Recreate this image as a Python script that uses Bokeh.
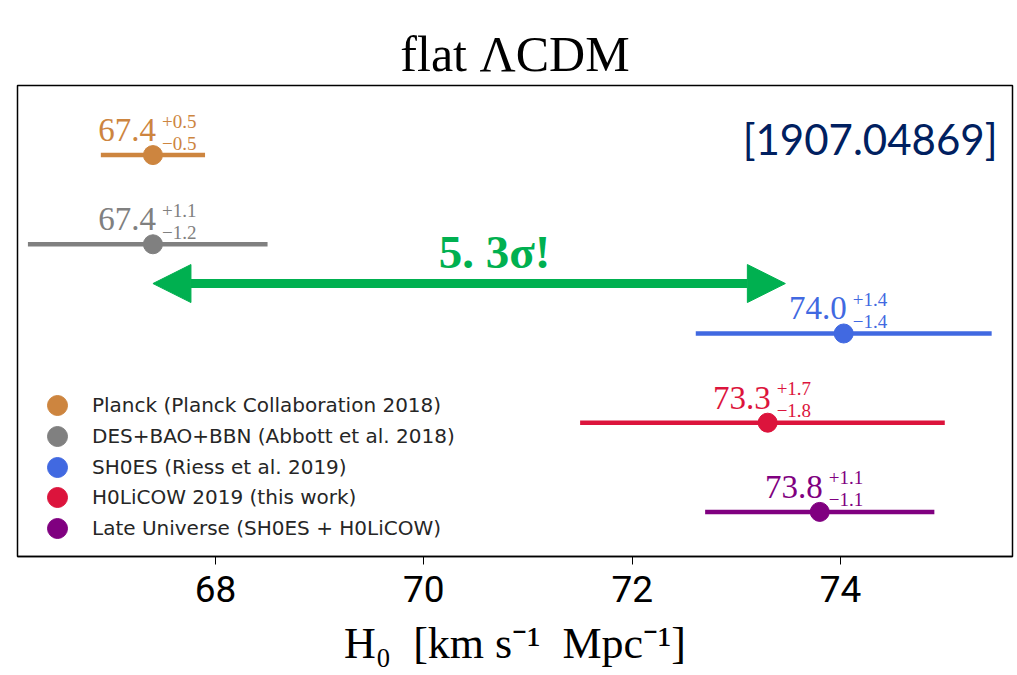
from bokeh.plotting import figure
from bokeh.models import (ColumnDataSource, Legend, LegendItem, Label, Arrow,
                          NormalHead, Range1d, FixedTicker)
from bokeh.core.properties import value
from bokeh.embed import file_html
from bokeh.resources import INLINE

# ---- data ----
names = ["Planck (Planck Collaboration 2018)",
         "DES+BAO+BBN (Abbott et al. 2018)",
         "SH0ES (Riess et al. 2019)",
         "H0LiCOW 2019 (this work)",
         "Late Universe (SH0ES + H0LiCOW)"]
h0 = [67.4, 67.4, 74.03, 73.3, 73.8]
err_hi = [0.5, 1.1, 1.42, 1.7, 1.1]
err_lo = [0.5, 1.2, 1.42, 1.8, 1.1]
main_lbl = ["67.4", "67.4", "74.0", "73.3", "73.8"]
sup_lbl = ["+0.5", "+1.1", "+1.4", "+1.7", "+1.1"]
sub_lbl = ["\u22120.5", "\u22121.2", "\u22121.4", "\u22121.8", "\u22121.1"]
rows = [5, 4, 3, 2, 1]
colors = ["#cd853f", "#808080", "#4169e1", "#dc143c", "#800080"]
x_ticks = [68, 70, 72, 74]
tension_text = "5. 3\u03c3!"
tension_from = 67.4
tension_to = 73.47
tension_row = 3.56
ref_text = "[1907.04869]"
xlabel = "H\u2080\u00a0\u00a0[km\u00a0s\u207b\u00b9\u00a0\u00a0Mpc\u207b\u00b9]"

lo = [v - e for v, e in zip(h0, err_lo)]
hi = [v + e for v, e in zip(h0, err_hi)]
src = ColumnDataSource(dict(x=h0, y=rows, lo=lo, hi=hi, c=colors,
                            main=main_lbl, sup=sup_lbl, sub=sub_lbl))

p = figure(width=1017, height=675, output_backend="svg", toolbar_location=None,
           x_range=Range1d(66.1, 75.65), y_range=Range1d(0.5, 5.78),
           min_border_left=17, min_border_right=5, min_border_top=85,
           min_border_bottom=119)
p.title.text = "flat \u039bCDM"
p.title.align = "center"
p.title.text_font = "Liberation Serif"
p.title.text_font_size = "50px"
p.title.text_font_style = "normal"
p.title.text_color = "black"
p.title.standoff = 8

p.xgrid.visible = False
p.ygrid.visible = False
p.yaxis.visible = False
p.outline_line_color = "black"
p.outline_line_width = 1.5
p.background_fill_color = "white"
p.border_fill_color = "white"

ax = p.xaxis[0]
ax.ticker = FixedTicker(ticks=x_ticks)
ax.major_label_text_font = "Roboto"
ax.major_label_text_font_size = "37px"
ax.major_label_text_color = "black"
ax.major_tick_out = 8
ax.major_tick_in = 0
ax.minor_tick_out = 0
ax.minor_tick_in = 0
ax.major_label_standoff = 11
ax.axis_line_width = 1.5
ax.axis_label = xlabel
ax.axis_label_text_font = "Liberation Serif"
ax.axis_label_text_font_size = "44px"
ax.axis_label_text_font_style = "normal"
ax.axis_label_text_color = "black"
ax.axis_label_standoff = 14

# error bars and points
p.segment(x0="lo", y0="y", x1="hi", y1="y", line_color="c", line_width=4.5, source=src)
pts = p.scatter(x="x", y="y", size=19, fill_color="c", line_color="c", source=src)

# value labels
serif = value("Liberation Serif")
p.text(x="x", y="y", text="main", text_color="c", text_font=serif,
       text_font_size="33px", text_align="right", text_baseline="alphabetic",
       x_offset=3, y_offset=-25, source=src)
p.text(x="x", y="y", text="sup", text_color="c", text_font=serif,
       text_font_size="19px", text_align="left", text_baseline="alphabetic",
       x_offset=9, y_offset=-34, source=src)
p.text(x="x", y="y", text="sub", text_color="c", text_font=serif,
       text_font_size="19px", text_align="left", text_baseline="alphabetic",
       x_offset=9, y_offset=-12, source=src)

# tension arrow
green = "#00b050"
p.add_layout(Arrow(x_start=tension_from, y_start=tension_row,
                   x_end=tension_to, y_end=tension_row,
                   line_color=green, line_width=9,
                   start=NormalHead(size=38, fill_color=green, line_color=green),
                   end=NormalHead(size=38, fill_color=green, line_color=green)))
p.add_layout(Label(x=477, y=305, x_units="screen", y_units="screen",
                   text=tension_text, text_font="Liberation Serif",
                   text_font_style="bold", text_font_size="47px",
                   text_color=green, text_align="center",
                   text_baseline="alphabetic"))
p.add_layout(Label(x=980, y=418, x_units="screen", y_units="screen",
                   text=ref_text, text_font="Lato", text_font_size="42px",
                   text_color="#002060", text_align="right",
                   text_baseline="alphabetic"))

# legend: one single-item legend per entry so markers can be large
# while rows stay close together
row_pitch = 30.75
n = len(names)
for i, nm in enumerate(names):
    leg = Legend(items=[LegendItem(label=nm, renderers=[pts], index=i)],
                 location=(15, 3 + row_pitch * (n - 1 - i)), padding=0, margin=0,
                 glyph_width=50, glyph_height=50, spacing=0, label_standoff=10,
                 label_text_font="DejaVu Sans", label_text_font_size="20px",
                 label_text_color="#262626", label_height=20,
                 background_fill_alpha=0, border_line_alpha=0)
    p.add_layout(leg)

open("out.html", "w").write(file_html(p, INLINE))
